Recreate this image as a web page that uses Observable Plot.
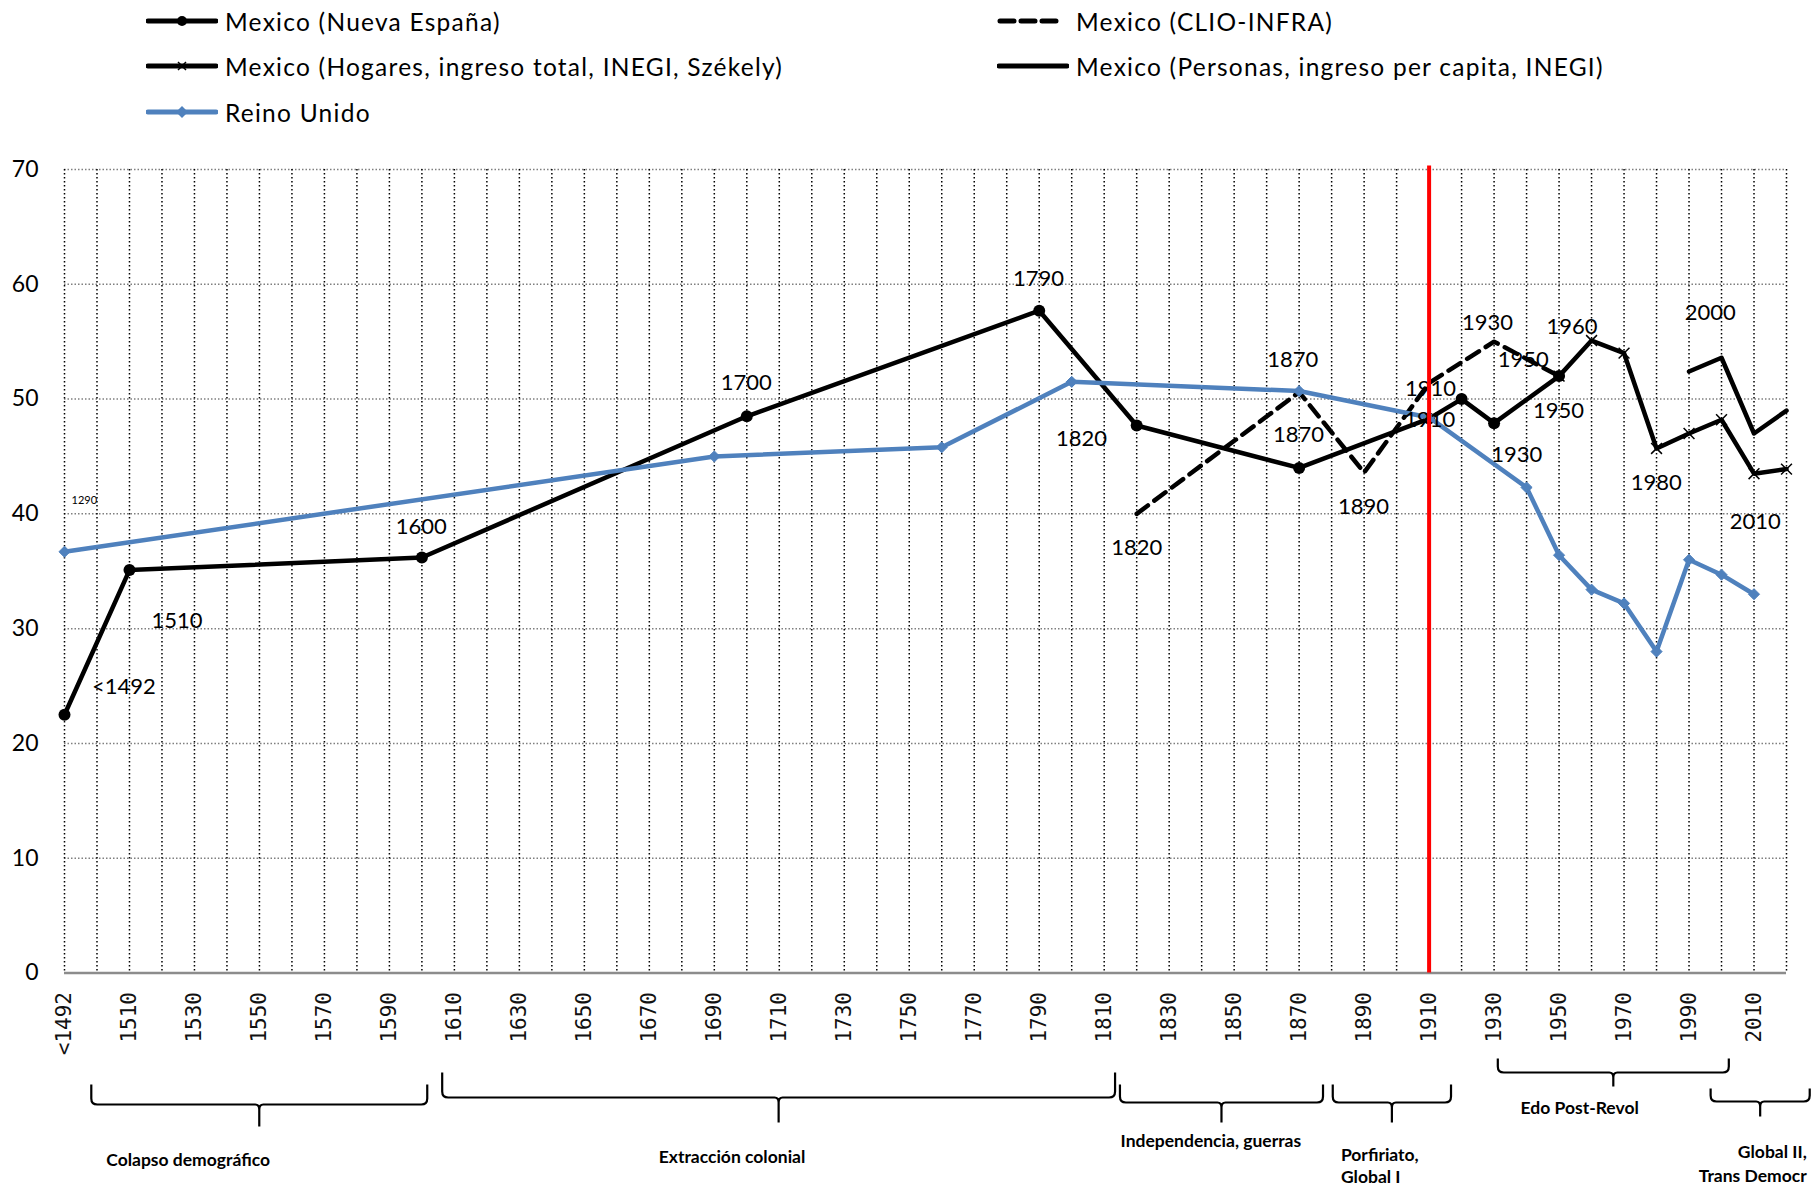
<!DOCTYPE html>
<html>
<head>
<meta charset="utf-8">
<script src="https://cdn.jsdelivr.net/npm/d3@7"></script>
<script src="https://cdn.jsdelivr.net/npm/@observablehq/plot@0.6"></script>
<style>
  html, body { margin: 0; padding: 0; background: #fff; overflow: hidden; }
  #legend { position: relative; width: 1819px; height: 135px; font-family: Lato, sans-serif; font-size: 24.5px; letter-spacing: 1.25px; color: #000; }
  .item { position: absolute; display: flex; align-items: center; height: 30px; white-space: nowrap; }
  .item svg { display: block; margin-right: 7px; }
  #chart svg { display: block; }
</style>
</head>
<body>
<div id="legend"></div>
<div id="chart"></div>
<script>
// ---------- DATA ----------
// Category axis: "<1492" plotted at 1490, then every decade to 2020
const categoryYears = [1490, 1500, 1510, 1520, 1530, 1540, 1550, 1560, 1570, 1580, 1590,
  1600, 1610, 1620, 1630, 1640, 1650, 1660, 1670, 1680, 1690, 1700, 1710, 1720, 1730, 1740,
  1750, 1760, 1770, 1780, 1790, 1800, 1810, 1820, 1830, 1840, 1850, 1860, 1870, 1880, 1890,
  1900, 1910, 1920, 1930, 1940, 1950, 1960, 1970, 1980, 1990, 2000, 2010, 2020];
const tickYears = [1490, 1510, 1530, 1550, 1570, 1590, 1610, 1630, 1650, 1670, 1690, 1710,
  1730, 1750, 1770, 1790, 1810, 1830, 1850, 1870, 1890, 1910, 1930, 1950, 1970, 1990, 2010];
const tickLabels = ["<1492", "1510", "1530", "1550", "1570", "1590", "1610", "1630", "1650",
  "1670", "1690", "1710", "1730", "1750", "1770", "1790", "1810", "1830", "1850", "1870",
  "1890", "1910", "1930", "1950", "1970", "1990", "2010"];
const yTicks = [0, 10, 20, 30, 40, 50, 60, 70];

// Series
const nuevaEspanaYears  = [1490, 1510, 1600, 1700, 1790, 1820, 1870, 1910, 1920, 1930, 1950];
const nuevaEspanaValues = [22.5, 35.1, 36.2, 48.5, 57.7, 47.7, 44.0, 48.3, 50.0, 47.9, 52.0];

const clioYears  = [1820, 1870, 1890, 1910, 1930, 1950];
const clioValues = [40.0, 50.6, 43.6, 51.4, 55.0, 52.0];

const hogaresYears  = [1950, 1960, 1970, 1980, 1990, 2000, 2010, 2020];
const hogaresValues = [52.0, 55.1, 54.0, 45.7, 47.0, 48.2, 43.5, 43.9];

const personasYears  = [1990, 2000, 2010, 2020];
const personasValues = [52.4, 53.6, 47.0, 49.0];

const reinoUnidoYears  = [1490, 1690, 1760, 1800, 1870, 1910, 1940, 1950, 1960, 1970, 1980, 1990, 2000, 2010];
const reinoUnidoValues = [36.7, 45.0, 45.8, 51.5, 50.7, 48.4, 42.3, 36.4, 33.4, 32.2, 28.0, 36.0, 34.7, 33.0];

// Reference line (year)
const markerYear = [1910];

// Data-label annotations (text, and where it sits in data units)
const labelTexts  = ["<1492", "1510", "1600", "1700", "1790", "1820", "1820", "1870", "1870", "1890",
  "1910", "1910", "1930", "1950", "1950", "1930", "1960", "2000", "1980", "2010"];
const labelYears  = [1508.3, 1524.6, 1599.8, 1699.8, 1789.8, 1803, 1820, 1868, 1869.8, 1889.8,
  1910.4, 1910.2, 1928, 1939, 1949.8, 1937, 1954, 1996.5, 1979.9, 2010.4];
const labelValues = [24.9, 30.7, 38.9, 51.4, 60.5, 46.5, 37.0, 53.4, 46.9, 40.6,
  50.9, 48.2, 56.6, 53.4, 49.0, 45.1, 56.3, 57.5, 42.65, 39.3];
const tinyLabelText = ["1290"];
const tinyLabelYear = [1496.1];
const tinyLabelValue = [41.2];

// Historical periods (year ranges) shown with braces under the axis
const periodNames = [["Colapso demográfico"], ["Extracción colonial"], ["Independencia, guerras"],
  ["Porfiriato,", "Global I"], ["Edo Post-Revol"], ["Global II,", "Trans Democr"]];
const periodStart = [1498.4, 1606.4, 1815.0, 1880.5, 1931.3, 1996.8];
const periodEnd   = [1601.8, 1813.5, 1877.5, 1916.9, 2002.4, 2027.3];
const periodLabelYear = [1528.2, 1695.6, 1843.0, 1883.0, 1956.5, 2026.4];

// Legend entries
const legendNames = ["Mexico (Nueva España)", "Mexico (CLIO-INFRA)",
  "Mexico (Hogares, ingreso total, INEGI, Székely)", "Mexico (Personas, ingreso per capita, INEGI)",
  "Reino Unido"];

// ---------- STYLE / LAYOUT ----------
const BLUE = "#4F81BD";
const LW = 4.5;
// brace geometry (pixels below the x axis): top of arms, bar, tip, label line(s)
const braceLayout = [
  {top: 112, bar: 132, tip: 154, text: [189], anchor: "middle"},
  {top: 100, bar: 125, tip: 150, text: [186], anchor: "middle"},
  {top: 112, bar: 130, tip: 150, text: [170], anchor: "middle"},
  {top: 112, bar: 130, tip: 150, text: [184, 206], anchor: "start"},
  {top: 86,  bar: 100, tip: 114, text: [137], anchor: "middle"},
  {top: 116, bar: 129, tip: 144, text: [181, 205], anchor: "end"}
];

const zip = (xs, ys) => xs.map((x, i) => ({x, y: ys[i]}));
const nueva = zip(nuevaEspanaYears, nuevaEspanaValues);
const clio = zip(clioYears, clioValues);
const hogares = zip(hogaresYears, hogaresValues);
const personas = zip(personasYears, personasValues);
const uk = zip(reinoUnidoYears, reinoUnidoValues);
const labels = labelTexts.map((t, i) => ({t, x: labelYears[i], y: labelValues[i]}));
const tiny = tinyLabelText.map((t, i) => ({t, x: tinyLabelYear[i], y: tinyLabelValue[i]}));
const ticks = tickYears.map((x, i) => ({x, t: tickLabels[i]}));
const periods = periodNames.map((n, i) => ({n, a: periodStart[i], b: periodEnd[i], c: periodLabelYear[i], L: braceLayout[i]}));

function braces(index, scales, values, dimensions) {
  const g = d3.create("svg:g");
  const base = dimensions.height - dimensions.marginBottom;
  for (const p of periods) {
    const x0 = scales.x(p.a), x1 = scales.x(p.b), xc = (x0 + x1) / 2;
    const top = base + p.L.top, bar = base + p.L.bar, tip = base + p.L.tip;
    const r = 6;
    const path = `M${x0},${top} L${x0},${bar - r} Q${x0},${bar} ${x0 + r},${bar} L${xc - 4},${bar} Q${xc},${bar} ${xc},${bar + 5} L${xc},${tip} M${xc},${bar + 5} Q${xc},${bar} ${xc + 4},${bar} L${x1 - r},${bar} Q${x1},${bar} ${x1},${bar - r} L${x1},${top}`;
    g.append("path").attr("d", path).attr("fill", "none").attr("stroke", "#000").attr("stroke-width", 2.2);
    p.n.forEach((line, k) => {
      g.append("text").attr("x", scales.x(p.c)).attr("y", base + p.L.text[k])
        .attr("text-anchor", p.L.anchor).attr("dominant-baseline", "middle")
        .attr("font-family", "Lato, sans-serif").attr("font-weight", "bold").attr("font-size", 17.5)
        .attr("fill", "#000").text(line);
    });
  }
  return g.node();
}

const chart = Plot.plot({
  width: 1819,
  height: 1052,
  marginTop: 34,
  marginBottom: 214.5,
  marginLeft: 64,
  marginRight: 33,
  style: {fontFamily: "Lato, sans-serif", color: "#000", background: "#fff", overflow: "visible"},
  x: {type: "linear", domain: [1490, 2020], axis: null},
  y: {domain: [0, 70], axis: null},
  marks: [
    Plot.ruleY(yTicks.filter(d => d > 0), {stroke: "#7f7f7f", strokeWidth: 1.5, strokeDasharray: "1.5,2"}),
    Plot.ruleX(categoryYears, {stroke: "#000", strokeWidth: 1.5, strokeDasharray: "1.5,2.5"}),
    Plot.ruleY([0], {stroke: "#8c8c8c", strokeWidth: 2.5}),
    Plot.text(yTicks, {x: 1490, y: d => d, text: d => String(d), textAnchor: "end", dx: -26,
      fontSize: 23, fontFamily: "Lato, sans-serif", fill: "#000"}),
    Plot.text(ticks, {x: "x", y: 0, text: "t", rotate: -90, textAnchor: "end", lineAnchor: "middle", dy: 19,
      fontSize: 21, fontFamily: "DejaVu Sans Mono, monospace", fill: "#111"}),
    Plot.line(nueva, {x: "x", y: "y", stroke: "#000", strokeWidth: LW, strokeLinejoin: "round"}),
    Plot.dot(nueva, {x: "x", y: "y", r: 6, fill: "#000"}),
    Plot.line(clio, {x: "x", y: "y", stroke: "#000", strokeWidth: LW, strokeDasharray: "14,8"}),
    Plot.line(hogares, {x: "x", y: "y", stroke: "#000", strokeWidth: LW, strokeLinejoin: "round"}),
    Plot.dot(hogares, {x: "x", y: "y", symbol: "times", r: 5, stroke: "#000", strokeWidth: 1.5}),
    Plot.line(personas, {x: "x", y: "y", stroke: "#000", strokeWidth: LW, strokeLinejoin: "round"}),
    Plot.line(uk, {x: "x", y: "y", stroke: BLUE, strokeWidth: LW, strokeLinejoin: "round"}),
    Plot.dot(uk, {x: "x", y: "y", symbol: "diamond2", r: 5, fill: BLUE, stroke: BLUE, strokeWidth: 1}),
    Plot.text(labels, {x: "x", y: "y", text: "t", fontSize: 22, fontFamily: "Lato, sans-serif", fill: "#000"}),
    Plot.text(tiny, {x: "x", y: "y", text: "t", fontSize: 11, fontFamily: "Lato, sans-serif", fill: "#000"}),
    Plot.ruleX(markerYear, {stroke: "#ff0000", strokeWidth: 4, y1: 0, y2: 70.3}),
    braces
  ]
});
document.getElementById("chart").appendChild(chart);

// ---------- LEGEND ----------
const legend = d3.select("#legend");
const swatches = [
  {col: 0, row: 0, kind: "circle"},
  {col: 1, row: 0, kind: "dash"},
  {col: 0, row: 1, kind: "times"},
  {col: 1, row: 1, kind: "solid"},
  {col: 0, row: 2, kind: "diamond"}
];
const colLeft = [146, 997];
const rowCenter = [21, 66, 112];
swatches.forEach((s, i) => {
  const item = legend.append("div").attr("class", "item")
    .style("left", colLeft[s.col] + "px").style("top", (rowCenter[s.row] - 15) + "px");
  const svg = item.append("svg").attr("width", 72).attr("height", 20);
  const color = s.kind === "diamond" ? BLUE : "#000";
  if (s.kind === "dash") {
    svg.append("line").attr("x1", 3).attr("x2", 62).attr("y1", 10).attr("y2", 10)
      .attr("stroke", "#000").attr("stroke-width", 5).attr("stroke-dasharray", "14,7").attr("stroke-linecap", "round");
  } else {
    svg.append("line").attr("x1", 2).attr("x2", 70).attr("y1", 10).attr("y2", 10)
      .attr("stroke", color).attr("stroke-width", 5).attr("stroke-linecap", "round");
  }
  if (s.kind === "circle") svg.append("circle").attr("cx", 36).attr("cy", 10).attr("r", 5).attr("fill", "#000");
  if (s.kind === "times") svg.append("path").attr("d", "M32,6L40,14M40,6L32,14").attr("stroke", "#000").attr("stroke-width", 1.5);
  if (s.kind === "diamond") svg.append("path").attr("d", "M36,4L42,10L36,16L30,10Z").attr("fill", BLUE);
  item.append("span").text(legendNames[i]);
});
</script>
</body>
</html>
